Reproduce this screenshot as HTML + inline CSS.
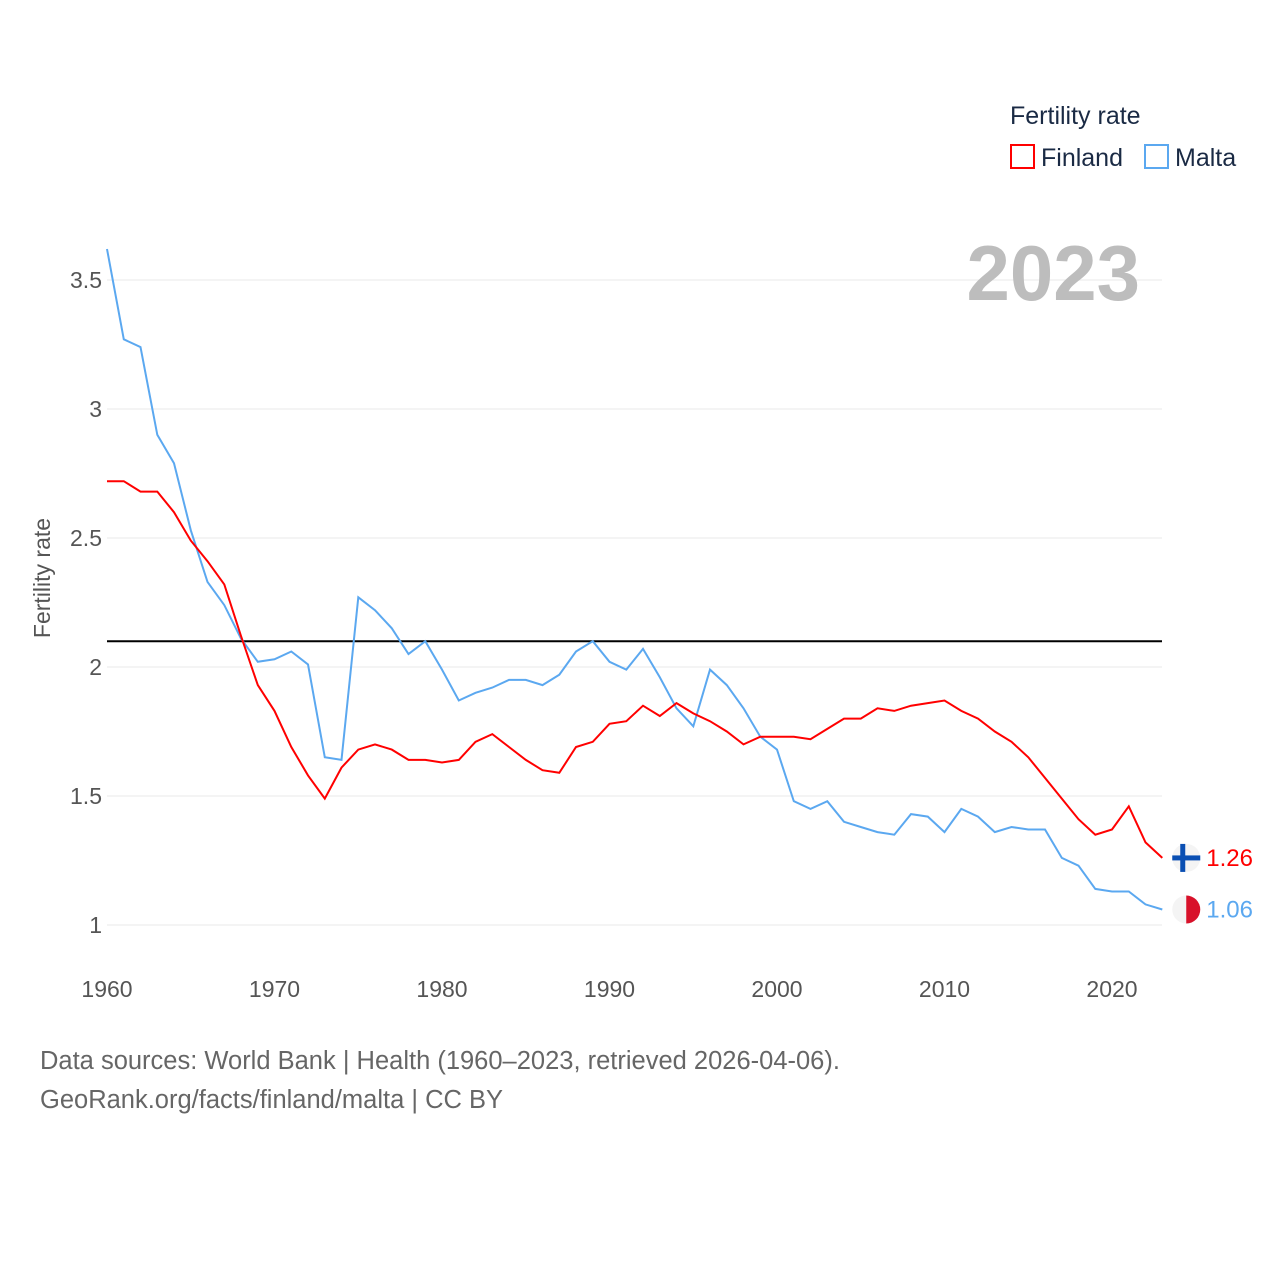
<!DOCTYPE html>
<html><head><meta charset="utf-8">
<style>
html,body{margin:0;padding:0;background:#fff;}
body{width:1280px;height:1280px;overflow:hidden;font-family:"Liberation Sans",sans-serif;}
</style></head>
<body>
<svg id="chart" width="1280" height="1280" xmlns="http://www.w3.org/2000/svg" font-family="Liberation Sans, sans-serif">
  <g id="grid"></g>
  <g id="yticks"></g>
  <g id="xticks"></g>
  <text x="1140" y="300" text-anchor="end" font-size="78" font-weight="bold" fill="#bdbdbd">2023</text>
  <text transform="translate(50,578) rotate(-90)" text-anchor="middle" font-size="23" fill="#555">Fertility rate</text>
  <g id="series"></g>
  <g>
    <text x="1010" y="124" font-size="25" fill="#1a2a44">Fertility rate</text>
    <rect x="1011" y="145" width="23" height="23" fill="none" stroke="#ff0000" stroke-width="2"/>
    <text x="1041" y="166" font-size="25" fill="#1a2a44">Finland</text>
    <rect x="1145" y="145" width="23" height="23" fill="none" stroke="#5ba8f0" stroke-width="2"/>
    <text x="1175" y="166" font-size="25" fill="#1a2a44">Malta</text>
  </g>
  <text x="40" y="1069" font-size="25.5" fill="#666">Data sources: World Bank | Health (1960–2023, retrieved 2026-04-06).</text>
  <text x="40" y="1108" font-size="25.5" fill="#666">GeoRank.org/facts/finland/malta | CC BY</text>
</svg>
<script>
const years = [];
for (let y = 1960; y <= 2023; y++) years.push(y);
const finland = [2.72,2.72,2.68,2.68,2.60,2.49,2.41,2.32,2.12,1.93,1.83,1.69,1.58,1.49,1.61,1.68,1.70,1.68,1.64,1.64,1.63,1.64,1.71,1.74,1.69,1.64,1.60,1.59,1.69,1.71,1.78,1.79,1.85,1.81,1.86,1.82,1.79,1.75,1.70,1.73,1.73,1.73,1.72,1.76,1.80,1.80,1.84,1.83,1.85,1.86,1.87,1.83,1.80,1.75,1.71,1.65,1.57,1.49,1.41,1.35,1.37,1.46,1.32,1.26];
const malta = [3.62,3.27,3.24,2.90,2.79,2.53,2.33,2.24,2.11,2.02,2.03,2.06,2.01,1.65,1.64,2.27,2.22,2.15,2.05,2.10,1.99,1.87,1.90,1.92,1.95,1.95,1.93,1.97,2.06,2.10,2.02,1.99,2.07,1.96,1.84,1.77,1.99,1.93,1.84,1.73,1.68,1.48,1.45,1.48,1.40,1.38,1.36,1.35,1.43,1.42,1.36,1.45,1.42,1.36,1.38,1.37,1.37,1.26,1.23,1.14,1.13,1.13,1.08,1.06];
const yTicks = [1,1.5,2,2.5,3,3.5];
const yTickLabels = ["1","1.5","2","2.5","3","3.5"];
const xTicks = [1960,1970,1980,1990,2000,2010,2020];
const replacement = [2.1];

const NS = "http://www.w3.org/2000/svg";
const X = yr => 107 + (yr - 1960) * 16.75;
const Y = v => 925 - (v - 1) * 258;
function mk(tag, attrs, parent, text) {
  const e = document.createElementNS(NS, tag);
  for (const k in attrs) e.setAttribute(k, attrs[k]);
  if (text !== undefined) e.textContent = text;
  parent.appendChild(e);
  return e;
}
const grid = document.getElementById('grid');
const yt = document.getElementById('yticks');
yTicks.forEach((v, i) => {
  const l = mk('line', {x1: 107, x2: 1162, y1: Y(v), y2: Y(v), stroke: '#e8e8e8', 'stroke-width': 1}, grid);
  
  
  const t = mk('text', {x: 102, y: Y(v) + 8, 'text-anchor': 'end', 'font-size': 23, fill: '#555'}, yt, yTickLabels[i]);
  
  
});
const xt = document.getElementById('xticks');
xTicks.forEach(yr => {
  const t = mk('text', {x: X(yr), y: 997, 'text-anchor': 'middle', 'font-size': 23, fill: '#555'}, xt, String(yr));
  
  
});
const ser = document.getElementById('series');
const ref = mk('line', {x1: 107, x2: 1162, y1: Y(replacement[0]), y2: Y(replacement[0]), stroke: '#000', 'stroke-width': 2}, ser);


function line(vals, color, name) {
  const d = vals.map((v, i) => (i ? 'L' : 'M') + X(years[i]).toFixed(1) + ',' + Y(v).toFixed(1)).join('');
  const p = mk('path', {d: d, fill: 'none', stroke: color, 'stroke-width': 2}, ser);
  
  
}
line(malta, '#5ba8f0', 'malta-line');
line(finland, '#ff0000', 'finland-line');

const lf = finland[finland.length - 1], lm = malta[malta.length - 1];
const fx = X(2023) + 24;
const fg = mk('g', {}, ser);


mk('circle', {cx: fx, cy: Y(lf), r: 14, fill: '#f4f4f4'}, fg);
mk('rect', {x: fx - 14, y: Y(lf) - 2.5, width: 28, height: 5, fill: '#0a4fb3'}, fg);
mk('rect', {x: fx - 6, y: Y(lf) - 14, width: 5, height: 28, fill: '#0a4fb3'}, fg);
const ft = mk('text', {x: fx + 20, y: Y(lf) + 8, 'font-size': 24, fill: '#ff0000'}, ser, lf.toFixed(2));


const mg = mk('g', {}, ser);


mk('circle', {cx: fx, cy: Y(lm), r: 14, fill: '#f4f4f4'}, mg);
mk('path', {d: `M${fx},${Y(lm)-14} A14,14 0 0 1 ${fx},${Y(lm)+14} Z`, fill: '#d8112a'}, mg);
const mt = mk('text', {x: fx + 20, y: Y(lm) + 8, 'font-size': 24, fill: '#5ba8f0'}, ser, lm.toFixed(2));


</script>
</body></html>
